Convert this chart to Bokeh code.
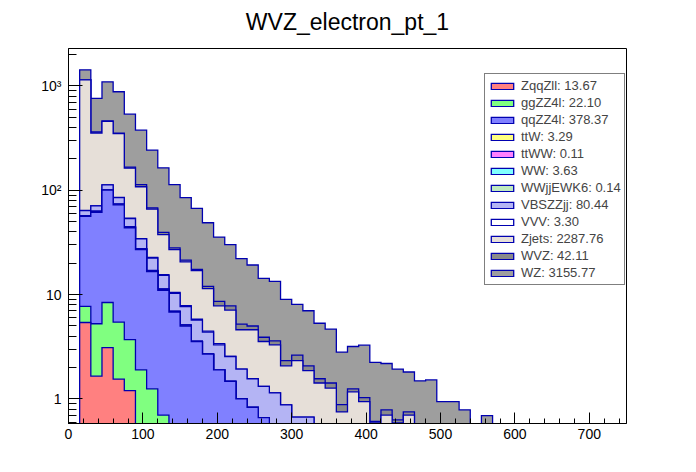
from bokeh.plotting import figure
from bokeh.models import Range1d, FixedTicker, SingleIntervalTicker, Legend, LegendItem, Title
from bokeh.embed import file_html
from bokeh.resources import INLINE

# ---------------- data ----------------
bin_low = list(range(15, 570, 15))   # lower edges of the 15 GeV bins that hold entries
bin_width = 15

ZqqZll = [5.4, 1.65, 3.1, 1.55, 1.2] + [0] * 32
ggZZ4l = [2.3, 3.6, 5.3, 3.9, 2.5, 1.9, 1.25, 0.7] + [0] * 29
qqZZ4l = [48.5, 56, 92, 67, 40, 25.1, 15.4, 10.3, 6.8, 5.0, 3.55, 2.69, 1.9, 1.47, 1.0,
          0.83, 0.66] + [0] * 20
ttW = [0, 0.5, 0.6, 0.6, 0.5, 0.4, 0.3, 0.2, 0.1, 0.09] + [0] * 27
ttWW = [0, 0, 0, 0, 0.06, 0, 0, 0.05] + [0] * 29
WW = [0.8, 1.2, 0.6, 0.5, 0.3, 0.23] + [0] * 31
WWjjEWK6 = [0, 0, 0, 0.08, 0, 0, 0.06] + [0] * 30
VBSZZjj = [6.8, 7.9, 10.8, 11.5, 9.0, 6.5, 5.4, 4.05, 3.4, 2.6, 2.15, 1.67, 1.39, 1.08, 0.93,
           0.73, 0.66, 1.14, 0.875, 0.67, 0.67] + [0] * 16
VVV = [0.3, 0.4, 0.45, 0.4, 0.35, 0.3, 0.25, 0.2, 0.2, 0.15, 0.1, 0.1, 0.1] + [0] * 24
Zjets = [1081, 282, 344, 263, 109, 73.6, 43.2, 22.1, 16.5, 12.75, 11.2, 6.94, 4.41, 4.55, 2.67,
         3.04, 2.23, 2.16, 1.2, 1.66, 1.2, 1.42, 1.27, 0.75, 1.17, 0.94, 0.59, 0.70, 0.59, 0.70] + [0] * 7
WVZ = [3, 8.6, 5, 5, 4, 5, 2, 1.9, 1, 0.8, 0.4, 0.6, 0.8, 0.7, 0.6, 0.4, 0.35, 0.3, 0.25, 0.3,
       0.2, 0.14, 0.15, 0.13, 0.08, 0.09, 0.02, 0.085, 0.04, 0.05, 0, 0, 0.1, 0, 0, 0, 0]
WZ = [280, 398, 632, 526, 369, 264, 175, 124.5, 85, 63.6, 49.5, 36.8, 27, 22.3, 16.9, 14.2, 10.4,
      9.8, 6.67, 5.43, 4.93, 3.75, 3.25, 1.93, 1.93, 2.24, 1.63, 1.4, 1.3, 1.06, 1.49, 1.52, 0.84,
      0.94, 0.785, 0, 0.69]

sample_names = ["ZqqZll", "ggZZ4l", "qqZZ4l", "ttW", "ttWW", "WW", "WWjjEWK6", "VBSZZjj",
                "VVV", "Zjets", "WVZ", "WZ"]
sample_totals = [13.67, 22.10, 378.37, 3.29, 0.11, 3.63, 0.14, 80.44, 3.30, 2287.76, 42.11, 3155.77]
sample_values = [ZqqZll, ggZZ4l, qqZZ4l, ttW, ttWW, WW, WWjjEWK6, VBSZZjj, VVV, Zjets, WVZ, WZ]

# styles (ROOT dense hatch of colour + white, approximated by blended fills)
fill_colors = ["#ff8080", "#80ff80", "#8080ff", "#ffff80", "#ff80ff", "#80ffff", "#bfeabf",
               "#b4b4f4", "#ffffff", "#e6dfd8", "#8a8a8a", "#9e9e9e"]
edge_color = "#0000b0"
FONT = "Liberation Sans"

# ---------------- figure ----------------
p = figure(width=687, height=463, x_range=Range1d(0, 750), y_range=Range1d(0.581, 2285),
           y_axis_type="log", output_backend="svg", toolbar_location=None,
           min_border_left=68, min_border_right=61, min_border_top=46, min_border_bottom=40,
           title="WVZ_electron_pt_1")
p.background_fill_color = "white"
p.border_fill_color = "white"
p.outline_line_color = "black"
p.outline_line_width = 1
p.xgrid.visible = False
p.ygrid.visible = False

p.title.align = "center"
p.title.text_font = FONT
p.title.text_font_style = "normal"
p.title.text_font_size = "23px"
p.title.text_color = "black"
p.title.standoff = 12

# thin blank band between the frame and the title, lifting the title a little
spacer = Title(text=" ", text_font_size="6px", standoff=0, text_color="white")
p.add_layout(spacer, "above")

BOTTOM = 1e-3

def step_outline(values):
    xs = [bin_low[0]]
    ys = [BOTTOM]
    for lo, v in zip(bin_low, values):
        h = v if v > 0 else BOTTOM
        xs += [lo, lo + bin_width]
        ys += [h, h]
    xs.append(bin_low[-1] + bin_width)
    ys.append(BOTTOM)
    return xs, ys

# cumulative stack (bottom -> top)
cum = []
running = [0.0] * len(bin_low)
for vals in sample_values:
    running = [a + b for a, b in zip(running, vals)]
    cum.append(list(running))

renderers = [None] * len(sample_names)
for i in reversed(range(len(sample_names))):
    xs, ys = step_outline(cum[i])
    renderers[i] = p.patch(xs, ys, fill_color=fill_colors[i], fill_alpha=1.0,
                           line_color=edge_color, line_width=1.3, line_join="miter")

items = [LegendItem(label=f"{n}: {t:.2f}", renderers=[r])
         for n, t, r in zip(sample_names, sample_totals, renderers)]
legend = Legend(items=items, location=(416, 138))
legend.border_line_color = "black"
legend.border_line_width = 1
legend.background_fill_color = "white"
legend.background_fill_alpha = 1.0
legend.glyph_width = 28
legend.glyph_height = 8
legend.label_text_font = FONT
legend.label_text_font_size = "13px"
legend.label_standoff = 5
legend.label_height = 17
legend.spacing = 0
legend.padding = 3
legend.margin = 0
p.add_layout(legend)

# axes
xa = p.xaxis[0]
xa.ticker = SingleIntervalTicker(interval=100, num_minor_ticks=5)
xa.major_tick_in = 11
xa.major_tick_out = 0
xa.minor_tick_in = 5
xa.minor_tick_out = 0
xa.major_label_standoff = 5
xa.major_label_text_font = FONT
xa.major_label_text_font_size = "14px"
xa.major_label_text_color = "black"
xa.axis_line_color = "black"

ya = p.yaxis[0]
minor = [0.6, 0.7, 0.8, 0.9] + [m * d for d in (1, 10, 100) for m in range(2, 10)] + [2000]
ya.ticker = FixedTicker(ticks=[1, 10, 100, 1000], minor_ticks=minor)
ya.major_label_overrides = {1: "1", 10: "10", 100: "10²", 1000: "10³"}
ya.major_tick_in = 14
ya.major_tick_out = 0
ya.minor_tick_in = 8
ya.minor_tick_out = 0
ya.major_label_standoff = 7
ya.major_label_text_font = FONT
ya.major_label_text_font_size = "14px"
ya.major_label_text_color = "black"
ya.axis_line_color = "black"

open("out.html", "w").write(file_html(p, INLINE))
